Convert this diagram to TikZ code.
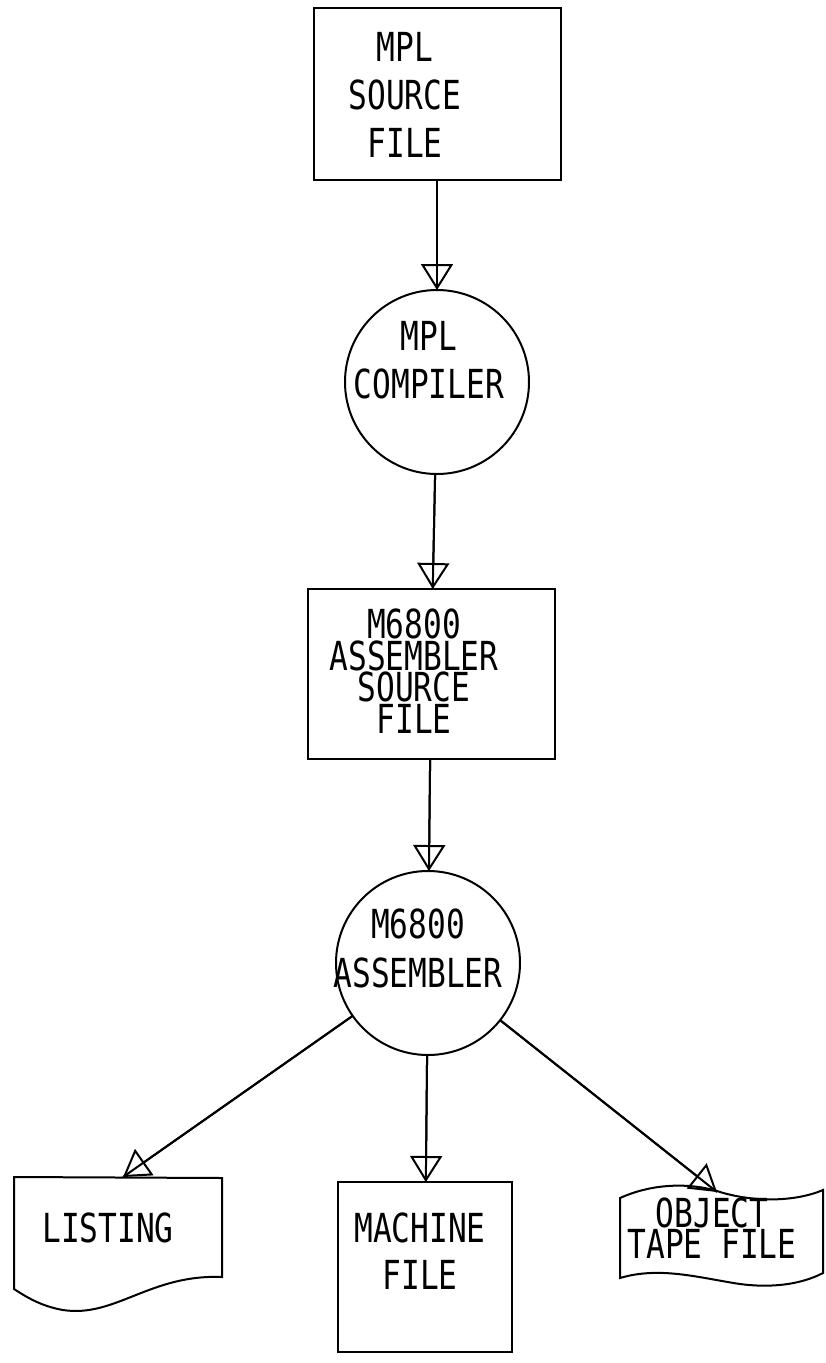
\documentclass[tikz,border=0pt]{standalone}
\usepackage{fontspec}
\usepackage{tikz}
\usetikzlibrary{arrows.meta}
\newfontfamily\tapefont{DejaVu Sans Mono}

\begin{document}
\begin{tikzpicture}[x=1pt,y=-1pt,
  line width=2pt,
  box/.style={draw,rectangle,inner sep=0pt,outer sep=0pt},
  proc/.style={draw,circle,inner sep=0pt,outer sep=0pt,minimum size=184pt},
  lbl/.style={align=center,inner sep=0pt,outer sep=0pt,xscale=0.78,
    font=\tapefont\fontsize{40}{#1}\selectfont},
  flow/.style={postaction={draw,-{Triangle[open,width=32pt,length=26pt]}}}]
\definecolor{drawColor}{RGB}{0,0,0}
\definecolor{fillColor}{RGB}{255,255,255}
\path[use as bounding box,fill=fillColor] (0,0) rectangle (825,1363);

% boxes and circles
\node[box,minimum width=247pt,minimum height=172pt] (src) at (437,94) {};
\node[proc] (cmp) at (437,382) {};
\node[box,minimum width=247pt,minimum height=170pt] (asmsrc) at (431,674) {};
\node[proc] (asm) at (428,963) {};
\node[box,minimum width=174pt,minimum height=170pt] (mach) at (425,1267) {};

% listing and tape
\draw[draw=drawColor] (14,1177) -- (222,1178) -- (222,1277)
  .. controls (150,1274) and (115,1318) .. (63,1310)
  .. controls (40,1306) and (25,1296) .. (14,1289) -- cycle;
\coordinate (listtop) at (123,1177);
\draw[draw=drawColor] (620,1198) .. controls (660,1180) and (700,1185) .. (720,1192)
  .. controls (760,1204) and (800,1200) .. (823,1190) -- (823,1273)
  .. controls (800,1285) and (770,1288) .. (740,1284)
  .. controls (700,1278) and (660,1266) .. (620,1278) -- cycle;
\coordinate (tapetop) at (717,1192);

% texts
\node[lbl=48] (srctxt) at (405,95) {MPL\\SOURCE\\FILE};
\node[lbl=48] (cmptxt) at (429,360) {MPL\\COMPILER};
\node[lbl=31.5] (asmsrctxt) at (414,671) {M6800\\ASSEMBLER\\SOURCE\\FILE};
\node[lbl=49] (asmtxt) at (418,948) {M6800\\ASSEMBLER};
\node[lbl=47] (listtxt) at (108,1228) {LISTING};
\node[lbl=47] (machtxt) at (420,1251) {MACHINE\\FILE};
\node[lbl=31] (tapetxt) at (712,1228) {OBJECT\\TAPE FILE};

% connectors
\draw[flow] (src) -- (cmp);
\draw[flow] (cmp) -- (asmsrc);
\draw[flow] (asmsrc) -- (asm);
\draw[flow] (asm) -- (listtop);
\draw[flow] (asm) -- (mach);
\draw[flow] (asm) -- (tapetop);
\end{tikzpicture}
\end{document}
